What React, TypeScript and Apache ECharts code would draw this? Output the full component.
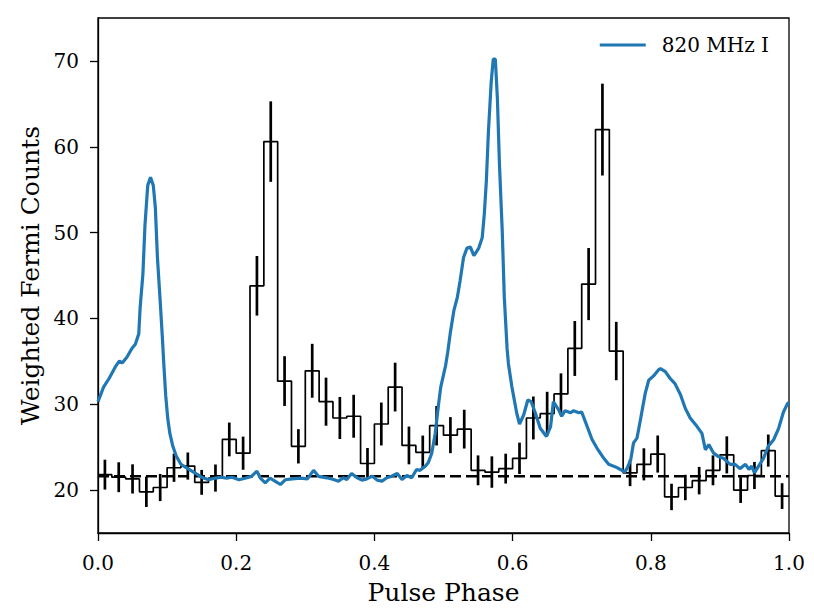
import React, { useEffect, useRef } from "react";
import * as echarts from "echarts";

// Fermi weighted counts histogram: 50 bins of width 0.02 in pulse phase
const binEdges: number[] = [
  0.0, 0.02, 0.04, 0.06, 0.08, 0.1, 0.12, 0.14, 0.16, 0.18,
  0.2, 0.22, 0.24, 0.26, 0.28, 0.3, 0.32, 0.34, 0.36, 0.38,
  0.4, 0.42, 0.44, 0.46, 0.48, 0.5, 0.52, 0.54, 0.56, 0.58,
  0.6, 0.62, 0.64, 0.66, 0.68, 0.7, 0.72, 0.74, 0.76, 0.78,
  0.8, 0.82, 0.84, 0.86, 0.88, 0.9, 0.92, 0.94, 0.96, 0.98,
];
const fermiCounts: number[] = [
  21.8, 21.5, 21.3, 19.8, 20.3, 22.6, 22.8, 20.9, 21.4, 25.9,
  24.3, 43.8, 60.6, 32.7, 25.1, 33.9, 30.3, 28.4, 28.6, 23.1,
  27.7, 32.0, 25.2, 24.4, 27.5, 26.4, 27.1, 22.3, 22.1, 22.5,
  23.7, 28.4, 28.9, 31.2, 36.5, 44.0, 62.0, 36.2, 22.0, 23.0,
  24.2, 19.2, 20.3, 21.1, 22.3, 24.1, 20.0, 21.7, 24.6, 19.3,
];
const fermiErrors: number[] = [
  1.74, 1.74, 1.7, 1.77, 1.58, 1.64, 1.58, 1.45, 1.58, 1.97,
  1.93, 3.47, 4.69, 2.9, 2.0, 3.14, 2.8, 2.45, 2.5, 1.8,
  2.5, 2.84, 2.2, 1.95, 2.3, 2.1, 2.26, 1.74, 1.83, 1.74,
  1.83, 2.5, 2.55, 2.4, 3.2, 4.2, 5.35, 3.4, 1.54, 1.87,
  2.16, 1.54, 1.48, 1.6, 1.74, 2.16, 1.5, 1.58, 1.87, 1.5,
];
const binWidth = 0.02;
const backgroundLevel = 21.6;

// 820 MHz radio profile (scaled)
const radioPhase: number[] = [
  0.0, 0.008, 0.016, 0.025, 0.031, 0.035, 0.042, 0.049, 0.054, 0.059,
  0.061, 0.065, 0.068, 0.072, 0.076, 0.08, 0.083, 0.086, 0.09, 0.093,
  0.095, 0.098, 0.101, 0.104, 0.108, 0.113, 0.12, 0.13, 0.14, 0.15,
  0.16, 0.17, 0.178, 0.186, 0.194, 0.204, 0.214, 0.222, 0.23, 0.235,
  0.242, 0.249, 0.259, 0.264, 0.271, 0.281, 0.293, 0.303, 0.312, 0.319,
  0.331, 0.341, 0.348, 0.355, 0.36, 0.367, 0.375, 0.382, 0.389, 0.397,
  0.404, 0.411, 0.418, 0.425, 0.433, 0.44, 0.447, 0.454, 0.461, 0.466,
  0.474, 0.478, 0.483, 0.488, 0.493, 0.496, 0.503, 0.506, 0.51, 0.515,
  0.52, 0.524, 0.529, 0.534, 0.539, 0.544, 0.551, 0.556, 0.559, 0.562,
  0.565, 0.569, 0.572, 0.575, 0.578, 0.581, 0.585, 0.588, 0.592, 0.594,
  0.599, 0.606, 0.61, 0.616, 0.622, 0.627, 0.633, 0.64, 0.649, 0.655,
  0.659, 0.667, 0.671, 0.676, 0.684, 0.688, 0.696, 0.7, 0.708, 0.715,
  0.722, 0.732, 0.739, 0.749, 0.756, 0.762, 0.766, 0.771, 0.775, 0.78,
  0.785, 0.792, 0.797, 0.804, 0.811, 0.814, 0.821, 0.828, 0.835, 0.843,
  0.85, 0.857, 0.867, 0.874, 0.879, 0.884, 0.891, 0.898, 0.905, 0.915,
  0.922, 0.929, 0.937, 0.942, 0.946, 0.95, 0.956, 0.963, 0.97, 0.978,
  0.985, 0.992, 0.998, 1.0,
];
const radioIntensity: number[] = [
  30.3, 32.0, 33.0, 34.35, 35.05, 34.8, 35.5, 36.5, 37.0, 38.2,
  41.3, 45.2, 50.9, 55.5, 56.45, 55.5, 52.9, 47.1, 42.0, 38.0,
  35.0, 31.0, 28.3, 26.6, 25.2, 24.0, 23.0, 22.5, 22.0, 21.5,
  21.2, 21.4, 21.5, 21.4, 21.5, 21.2, 21.4, 21.6, 22.2, 21.4,
  20.85, 21.4, 20.9, 20.65, 21.2, 21.3, 21.4, 21.3, 22.3, 21.6,
  21.43, 21.24, 21.04, 21.43, 21.24, 21.93, 21.43, 21.16, 21.31, 21.62,
  21.16, 21.04, 21.43, 21.62, 21.93, 21.24, 21.7, 21.43, 22.4, 22.3,
  22.8, 23.2, 24.3, 26.6, 30.1, 32.0, 34.5, 36.0, 38.4, 40.9,
  42.45, 44.4, 47.1, 48.2, 48.3, 47.3, 48.2, 49.4, 52.1, 56.0,
  61.75, 67.5, 70.2, 70.2, 65.6, 57.9, 50.2, 42.45, 36.5, 34.7,
  32.0, 28.95, 27.7, 28.75, 30.5, 30.3, 28.95, 27.2, 26.25, 27.4,
  30.3, 29.3, 28.6, 29.25, 29.0, 29.25, 29.0, 29.1, 27.4, 25.9,
  24.9, 23.7, 23.0, 22.7, 22.4, 22.1, 22.6, 23.55, 25.5, 26.05,
  28.2, 31.3, 32.8, 33.3, 34.0, 34.15, 33.8, 33.0, 32.4, 31.1,
  29.5, 28.4, 27.4, 26.6, 24.7, 25.3, 24.3, 23.9, 23.7, 23.0,
  23.0, 22.5, 23.0, 22.4, 22.8, 22.0, 22.8, 23.7, 25.1, 25.9,
  27.2, 29.1, 30.1, 30.2,
];

const yTickValues: number[] = [20, 30, 40, 50, 60, 70];
const seriesName = "820 MHz I";
const FONT = "DejaVu Serif";

export default function App() {
  const ref = useRef<HTMLDivElement>(null);

  useEffect(() => {
    if (!ref.current) return;
    const chart = echarts.init(ref.current, undefined, { renderer: "svg" });

    const histData: number[][] = binEdges.map((e, i) => [e, fermiCounts[i]]);
    histData.push([binEdges[binEdges.length - 1] + binWidth, fermiCounts[fermiCounts.length - 1]]);

    const errData: number[][] = binEdges.map((e, i) => [e + binWidth / 2, fermiCounts[i], fermiErrors[i]]);
    const radioData: number[][] = radioPhase.map((p, i) => [p, radioIntensity[i]]);

    chart.setOption({
      animation: false,
      backgroundColor: "#ffffff",
      textStyle: { fontFamily: FONT },
      grid: {
        left: 98,
        right: 25,
        top: 18,
        bottom: 74,
        show: true,
        borderColor: "#000",
        borderWidth: 1.3,
        backgroundColor: "transparent",
      },
      legend: {
        data: [{ name: seriesName, icon: "rect", itemStyle: { color: "#1f77b4" } }],
        right: 45,
        top: 35,
        padding: 0,
        itemWidth: 46,
        itemHeight: 3,
        textStyle: { fontFamily: FONT, fontSize: 20, color: "#000", padding: [0, 0, 0, 11] },
      },
      xAxis: {
        type: "value",
        min: 0,
        max: 1,
        interval: 0.2,
        name: "Pulse Phase",
        nameLocation: "middle",
        nameGap: 47,
        nameTextStyle: { fontFamily: FONT, fontSize: 25, color: "#000" },
        axisLine: { show: true, onZero: false, lineStyle: { color: "#000", width: 1.3 } },
        axisTick: { show: true, length: 8, inside: false, lineStyle: { color: "#000", width: 1.3 } },
        axisLabel: {
          margin: 20,
          fontFamily: FONT,
          fontSize: 20,
          color: "#000",
          formatter: (v: number) => v.toFixed(1),
        },
        splitLine: { show: false },
      },
      yAxis: {
        type: "value",
        min: 15,
        max: 75,
        name: "Weighted Fermi Counts",
        nameLocation: "middle",
        nameGap: 50,
        nameTextStyle: { fontFamily: FONT, fontSize: 25, color: "#000" },
        axisLine: { show: true, onZero: false, lineStyle: { color: "#000", width: 1.3 } },
        axisTick: {
          show: true,
          length: 8,
          inside: false,
          customValues: yTickValues,
          lineStyle: { color: "#000", width: 1.3 },
        },
        axisLabel: {
          margin: 19,
          fontFamily: FONT,
          fontSize: 20,
          color: "#000",
          customValues: yTickValues,
        },
        splitLine: { show: false },
      },
      series: [
        {
          name: "hist",
          type: "line",
          step: "end",
          data: histData,
          symbol: "none",
          lineStyle: { color: "#000", width: 1.7 },
          z: 2,
        },
        {
          name: "err",
          type: "custom",
          data: errData,
          renderItem: (params: any, api: any) => {
            const x = api.value(0);
            const v = api.value(1);
            const e = api.value(2);
            const p1 = api.coord([x, v - e]);
            const p2 = api.coord([x, v + e]);
            return {
              type: "line",
              shape: { x1: p1[0], y1: p1[1], x2: p2[0], y2: p2[1] },
              style: { stroke: "#000", lineWidth: 2.7 },
            };
          },
          z: 3,
        },
        {
          name: "background",
          type: "line",
          data: [
            [0, backgroundLevel],
            [1, backgroundLevel],
          ],
          symbol: "none",
          lineStyle: { color: "#000", width: 2.5, type: [11, 5] },
          z: 3,
        },
        {
          name: seriesName,
          type: "line",
          data: radioData,
          symbol: "none",
          smooth: false,
          lineStyle: { color: "#1f77b4", width: 3.2 },
          itemStyle: { color: "#1f77b4" },
          z: 4,
        },
      ],
    });

    return () => chart.dispose();
  }, []);

  return (
    <div
      ref={ref}
      style={{ position: "fixed", left: 0, top: 0, width: 814, height: 610, background: "#fff" }}
    />
  );
}
